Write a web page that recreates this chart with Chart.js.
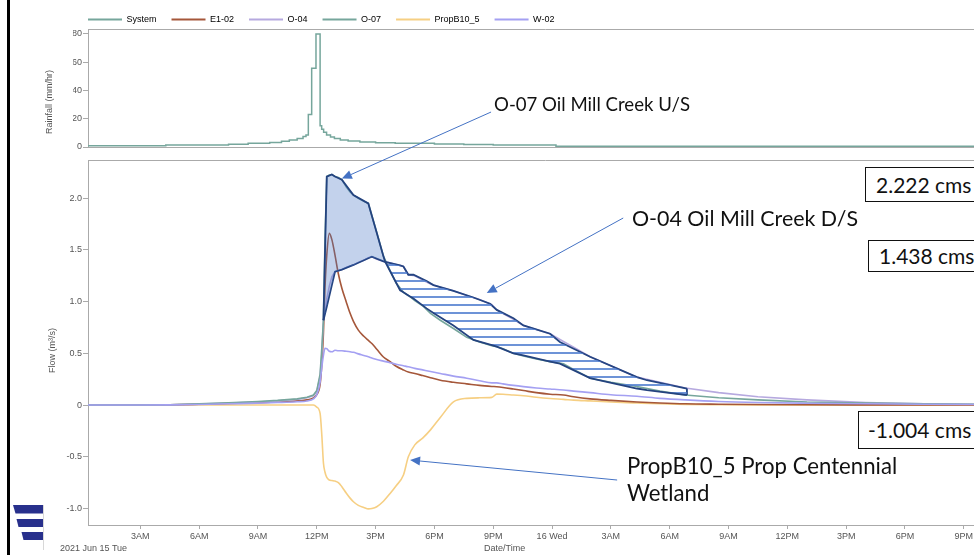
<!DOCTYPE html>
<html>
<head>
<meta charset="utf-8">
<script src="https://cdn.jsdelivr.net/npm/chart.js@4.4.1/dist/chart.umd.min.js"></script>
<style>
  html, body { margin:0; padding:0; overflow:hidden; background:#fff; width:974px; height:555px; }
  #wrap { position:relative; width:1004px; height:555px; }
  canvas { position:absolute; left:0; top:0; }
  .note { position:absolute; font-family: Lato, 'Liberation Sans', sans-serif; color:#111; white-space:nowrap; line-height:27px; }
  .box { position:absolute; border:1px solid #111; background:#fff; font-family: Lato, 'Liberation Sans', sans-serif; font-size:21px; color:#111; white-space:nowrap; box-sizing:border-box; width:200px; }
  .small { position:absolute; font-family:'Liberation Sans', Arial, sans-serif; font-size:9px; color:#555; white-space:nowrap; }
  #bar { position:absolute; left:7px; top:0; width:3px; height:555px; background:#000; }
</style>
</head>
<body>
<div id="wrap">
  <canvas id="rain" width="1004" height="160"></canvas>
  <canvas id="flow" width="1004" height="555"></canvas>
  <div id="bar"></div>
  <svg style="position:absolute;left:0;top:500px" width="50" height="55">
    <path d="M13,5 L43,5 L43,13.5 L15.5,13.5 Z" fill="#28308c"/>
    <path d="M16.5,19 L43,19 L43,27 L18.5,27 Z" fill="#28308c"/>
    <path d="M21.5,32 L43,32 L43,40 L23.5,40 Z" fill="#28308c"/>
    <line x1="43.5" y1="5" x2="43.5" y2="50" stroke="#d8d8d8" stroke-width="1"/>
  </svg>
  <div class="small" style="left:60px;top:543px;">2021 Jun 15 Tue</div>
  <div class="small" style="left:484px;top:543px;">Date/Time</div>
  <div class="note" style="left:494px;top:91px;font-size:18.6px;">O-07 Oil Mill Creek U/S</div>
  <div class="note" style="left:632px;top:205px;font-size:21.4px;">O-04 Oil Mill Creek D/S</div>
  <div class="note" style="left:627px;top:452px;font-size:22.2px;">PropB10_5 Prop Centennial<br>Wetland</div>
  <div class="box" style="left:865px;top:167px;height:35px;line-height:33px;padding-left:10px;">2.222 cms</div>
  <div class="box" style="left:868px;top:240px;height:32px;line-height:30px;padding-left:10px;">1.438 cms</div>
  <div class="box" style="left:858px;top:411px;height:38px;line-height:36px;padding-left:9px;">-1.004 cms</div>
</div>
<script>
// ---------- DATA ----------
const seriesNames = ['System', 'E1-02', 'O-04', 'O-07', 'PropB10_5', 'W-02'];

// Rainfall (System), mm/hr, each value holds until the next hour mark; hours since 2021-06-15 00:00
const rainHours = [0.33, 4.3, 7.5, 8.5, 9.6, 10.2, 10.6, 11.0, 11.3, 11.45, 11.57, 11.74, 11.96, 12.17, 12.25, 12.35, 12.5, 12.7, 12.9, 13.2, 13.6, 14.2, 15, 16, 18, 19.5, 21, 24.2, 47];
const rainfall  = [0.8, 1.5, 2.0, 2.6, 3.2, 4, 5, 6, 7.5, 8.5, 23, 55.7, 80, 15, 12.5, 10.5, 8.5, 7, 6, 5, 4.2, 3.5, 3, 2.6, 2.2, 1.8, 1.5, 0.5, 0.5];

// Flow series, m3/s, hours since 2021-06-15 00:00
const flowHours = [0.33, 3, 4.5, 6, 7.5, 9, 10, 11, 11.5, 11.83,
  12.0, 12.17, 12.26, 12.34, 12.42, 12.51, 12.64, 12.77, 12.93, 13.1,
  13.28, 13.5, 13.7, 13.87, 14.12, 14.4, 14.63, 14.81, 15.06, 15.4,
  15.74, 16.05, 16.42, 16.67, 17.0, 17.4, 17.8, 18.3, 18.97, 19.65,
  20.3, 20.93, 21.18, 21.5, 22.03, 22.54, 23.2, 23.9, 24.58, 25.1,
  25.94, 27, 28.33, 29.5, 30.8, 32.5, 34.5, 37, 40, 43, 47];
const o07Flow = [0, 0, 0.003, 0.012, 0.022, 0.035, 0.045, 0.06, 0.075, 0.097,
  0.14, 0.3, 0.56, 0.82, 1.6, 2.21, 2.225, 2.23, 2.21, 2.2,
  2.18, 2.11, 2.06, 2.03, 2.0, 1.97, 1.95, 1.83, 1.67, 1.44,
  1.30, 1.18, 1.09, 1.06, 1.01, 0.96, 0.887, 0.82, 0.74, 0.655,
  0.61, 0.575, 0.564, 0.545, 0.50, 0.475, 0.445, 0.42, 0.40, 0.345,
  0.26, 0.22, 0.18, 0.135, 0.097, 0.07, 0.05, 0.03, 0.02, 0.012, 0.006];
const o04Flow = [0, 0, 0.003, 0.01, 0.02, 0.03, 0.04, 0.055, 0.07, 0.09,
  0.13, 0.28, 0.5, 0.82, 0.93, 1.03, 1.15, 1.24, 1.29, 1.30,
  1.31, 1.33, 1.345, 1.355, 1.38, 1.40, 1.425, 1.434, 1.41, 1.39,
  1.375, 1.36, 1.34, 1.26, 1.25, 1.21, 1.17, 1.14, 1.105, 1.06,
  1.02, 0.97, 0.92, 0.885, 0.83, 0.77, 0.73, 0.69, 0.615, 0.56,
  0.467, 0.38, 0.27, 0.22, 0.165, 0.12, 0.08, 0.05, 0.025, 0.012, 0.006];
const e102Flow = [0, 0, 0.002, 0.008, 0.015, 0.022, 0.03, 0.04, 0.05, 0.07,
  0.1, 0.2, 0.4, 0.7, 1.14, 1.45, 1.66, 1.6, 1.45, 1.27,
  1.13, 1.0, 0.887, 0.81, 0.725, 0.665, 0.625, 0.595, 0.54, 0.465,
  0.42, 0.375, 0.34, 0.32, 0.305, 0.285, 0.265, 0.24, 0.22, 0.205,
  0.19, 0.18, 0.177, 0.17, 0.155, 0.14, 0.12, 0.105, 0.097, 0.08,
  0.06, 0.045, 0.03, 0.02, 0.012, 0.008, 0.005, 0.003, 0.002, 0.001, 0];
const w02Flow = [0, 0, 0.002, 0.006, 0.012, 0.018, 0.024, 0.032, 0.04, 0.06,
  0.1, 0.22, 0.37, 0.48, 0.55, 0.545, 0.52, 0.515, 0.53, 0.525,
  0.525, 0.52, 0.515, 0.51, 0.495, 0.48, 0.467, 0.455, 0.44, 0.425,
  0.41, 0.395, 0.38, 0.37, 0.355, 0.34, 0.325, 0.306, 0.28, 0.26,
  0.235, 0.215, 0.215, 0.205, 0.19, 0.178, 0.165, 0.155, 0.145, 0.135,
  0.12, 0.1, 0.085, 0.065, 0.05, 0.035, 0.025, 0.018, 0.012, 0.008, 0.005];
const propB10Flow = [0, 0, 0, 0, 0, 0, 0, 0, 0, 0,
  -0.02, -0.08, -0.3, -0.56, -0.65, -0.7, -0.725, -0.73, -0.735, -0.75,
  -0.79, -0.85, -0.9, -0.935, -0.97, -0.99, -1.004, -1.0, -0.983, -0.93,
  -0.855, -0.78, -0.677, -0.5, -0.385, -0.32, -0.24, -0.12, 0.03, 0.065,
  0.07, 0.074, 0.106, 0.105, 0.097, 0.09, 0.075, 0.063, 0.055, 0.048,
  0.04, 0.03, 0.02, 0.012, 0.006, 0.003, 0.001, 0, 0, 0, 0];

// Hand-drawn outline overlay (O-07 U/S vs O-04 D/S)
const outlineHours = [12.34, 12.51, 12.77, 12.93, 13.28, 13.87, 14.63, 14.81, 15.4, 15.48,
  16.25, 16.42, 16.67, 16.93, 17.6, 17.95, 18.97, 19.99, 20.84, 21.18,
  22.03, 22.54, 23.9, 24.4, 25.94, 28.33, 28.84, 30.88];
const outlineO07 = [0.82, 2.21, 2.23, 2.21, 2.18, 2.03, 1.95, 1.83, 1.44, 1.39,
  1.11, 1.09, 1.06, 1.03, 0.935, 0.89, 0.77, 0.63, 0.585, 0.565,
  0.50, 0.48, 0.42, 0.40, 0.26, 0.16, 0.145, 0.097];
const outlineO04 = [0.82, 0.95, 1.16, 1.29, 1.31, 1.355, 1.42, 1.434, 1.39, 1.385,
  1.35, 1.34, 1.26, 1.26, 1.2, 1.16, 1.105, 1.04, 0.98, 0.92,
  0.84, 0.77, 0.69, 0.61, 0.467, 0.27, 0.24, 0.16];

// Axis ticks
const xTickHours  = [3, 6, 9, 12, 15, 18, 21, 24, 27, 30, 33, 36, 39, 42, 45];
const xTickLabels = ['3AM', '6AM', '9AM', '12PM', '3PM', '6PM', '9PM', '16 Wed', '3AM', '6AM', '9AM', '12PM', '3PM', '6PM', '9PM'];

// Annotation arrows: [tailHour, tailValue, tipHour, tipValue]
const arrows = [
  [20.89, 2.834, 13.28, 2.19],
  [27.63, 1.809, 20.67, 1.083],
  [27.32, -0.725, 16.76, -0.532]
];

// ---------- STYLE ----------
const colors = { System:'#76a69c', 'E1-02':'#a5573a', 'O-04':'#b6a9df', 'O-07':'#76a69c', PropB10_5:'#f6cf83', 'W-02':'#a4a0f2' };
const navy = '#24437f';
const axisColor = '#aaaaaa';
const tickColor = '#555555';
const uiFont = { family: "'Liberation Sans', Arial, sans-serif", size: 9 };
const xMin = 0.332, xMax = 47.0;

const pts = (xs, ys) => xs.map((x, i) => ({ x, y: ys[i] }));

const framePlugin = {
  id: 'frame',
  afterDraw(chart, args, opts) {
    const { ctx, chartArea: a } = chart;
    ctx.save();
    ctx.strokeStyle = axisColor; ctx.lineWidth = 1;
    ctx.beginPath(); ctx.moveTo(a.left, a.top + 0.5); ctx.lineTo(a.right, a.top + 0.5); ctx.stroke();
    ctx.fillStyle = tickColor;
    ctx.font = "9px 'Liberation Sans', Arial, sans-serif";
    ctx.textAlign = 'center'; ctx.textBaseline = 'middle';
    ctx.translate(opts.tx, (a.top + a.bottom) / 2 + opts.dy);
    ctx.rotate(-Math.PI / 2);
    ctx.fillText(opts.text, 0, 0);
    ctx.restore();
  }
};

// ---------- RAIN CHART ----------
new Chart(document.getElementById('rain'), {
  type: 'line',
  data: { datasets: [{
    label: 'System', data: pts(rainHours, rainfall), stepped: 'before',
    borderColor: colors.System, borderWidth: 1.5, pointRadius: 0, fill: false
  }]},
  options: {
    responsive: false, animation: false, events: [],
    layout: { padding: { left: 73, right: 1, top: 0, bottom: 0 } },
    plugins: {
      legend: {
        display: true, align: 'start', maxHeight: 29,
        labels: {
          boxWidth: 34, boxHeight: 2, padding: 15, color: tickColor, font: uiFont,
          generateLabels: () => seriesNames.map(n => ({ text: n, fillStyle: colors[n], strokeStyle: colors[n], lineWidth: 0, hidden: false }))
        }
      },
      tooltip: { enabled: false },
      frame: { text: 'Rainfall (mm/hr)', tx: 50, dy: 14 }
    },
    scales: {
      x: { type: 'linear', min: xMin, max: xMax, ticks: { display: false }, grid: { display: false },
           border: { color: axisColor }, afterFit: s => { s.height = 13; } },
      y: { min: 0, max: 83.5, afterFit: s => { s.width = 15; },
           ticks: { stepSize: 20, includeBounds: false, color: tickColor, font: uiFont, padding: 1 },
           grid: { drawOnChartArea: false, tickLength: 5, color: axisColor }, border: { color: axisColor } }
    }
  },
  plugins: [framePlugin]
});

// ---------- FLOW CHART ----------
const flowCanvas = document.getElementById('flow');
const pc = document.createElement('canvas'); pc.width = 8; pc.height = 8;
const pg = pc.getContext('2d'); pg.fillStyle = 'rgba(84,128,208,0.85)'; pg.fillRect(0, 0, 8, 2);
const hatch = flowCanvas.getContext('2d').createPattern(pc, 'repeat');

const lastH = outlineHours[outlineHours.length - 1];
const arrowPlugin = {
  id: 'arrows',
  afterDraw(chart) {
    const { ctx, scales: { x, y } } = chart;
    ctx.save();
    ctx.strokeStyle = '#4472c4'; ctx.fillStyle = '#4472c4'; ctx.lineWidth = 1;
    arrows.forEach(([h1, v1, h2, v2]) => {
      const x1 = x.getPixelForValue(h1), y1 = y.getPixelForValue(v1);
      const x2 = x.getPixelForValue(h2), y2 = y.getPixelForValue(v2);
      const a = Math.atan2(y2 - y1, x2 - x1), L = 10, W = 4.5;
      const bx = x2 - L * Math.cos(a), by = y2 - L * Math.sin(a);
      ctx.beginPath(); ctx.moveTo(x1, y1); ctx.lineTo(bx, by); ctx.stroke();
      ctx.beginPath(); ctx.moveTo(x2, y2);
      ctx.lineTo(bx + W * Math.sin(a), by - W * Math.cos(a));
      ctx.lineTo(bx - W * Math.sin(a), by + W * Math.cos(a));
      ctx.closePath(); ctx.fill();
    });
    ctx.restore();
  }
};

new Chart(flowCanvas, {
  type: 'line',
  data: { datasets: [
    { label: 'O-07 outline', data: pts(outlineHours, outlineO07), borderColor: navy, borderWidth: 1.8, pointRadius: 0, order: 0,
      fill: { target: 1, above: 'rgba(68,114,196,0.32)', below: hatch } },
    { label: 'O-04 outline', data: pts(outlineHours, outlineO04), borderColor: navy, borderWidth: 1.8, pointRadius: 0, order: 0, fill: false },
    { label: 'outline end', data: [{ x: lastH, y: outlineO07[outlineO07.length - 1] }, { x: lastH, y: outlineO04[outlineO04.length - 1] }],
      borderColor: navy, borderWidth: 1.8, pointRadius: 0, order: 0, fill: false },
    { label: 'W-02', data: pts(flowHours, w02Flow), borderColor: colors['W-02'], borderWidth: 1.6, pointRadius: 0, order: 1, fill: false, cubicInterpolationMode: 'monotone' },
    { label: 'O-07', data: pts(flowHours, o07Flow), borderColor: colors['O-07'], borderWidth: 1.6, pointRadius: 0, order: 2, fill: false },
    { label: 'O-04', data: pts(flowHours, o04Flow), borderColor: colors['O-04'], borderWidth: 1.6, pointRadius: 0, order: 3, fill: false },
    { label: 'E1-02', data: pts(flowHours, e102Flow), borderColor: colors['E1-02'], borderWidth: 1.6, pointRadius: 0, order: 4, fill: false, cubicInterpolationMode: 'monotone' },
    { label: 'PropB10_5', data: pts(flowHours, propB10Flow), borderColor: colors.PropB10_5, borderWidth: 1.6, pointRadius: 0, order: 5, fill: false, cubicInterpolationMode: 'monotone' }
  ]},
  options: {
    responsive: false, animation: false, events: [],
    layout: { padding: { left: 0, right: 1, top: 160, bottom: 0 } },
    plugins: { legend: { display: false }, tooltip: { enabled: false },
      frame: { text: 'Flow (m\u00b3/s)', tx: 53, dy: 8 } },
    scales: {
      x: { type: 'linear', min: xMin, max: xMax,
           afterBuildTicks: s => { s.ticks = xTickHours.map(v => ({ value: v })); },
           afterFit: s => { s.height = 30; },
           ticks: { autoSkip: false, maxRotation: 0, color: tickColor, font: uiFont, padding: 2,
                    callback: (v, i) => xTickLabels[i] },
           grid: { drawOnChartArea: false, tickLength: 4, color: axisColor }, border: { color: axisColor } },
      y: { min: -1.16, max: 2.37, afterFit: s => { s.width = 88; },
           ticks: { stepSize: 0.5, includeBounds: false, color: tickColor, font: uiFont, padding: 1,
                    callback: v => (Math.abs(v) < 1e-9 ? '0' : v.toFixed(1)) },
           grid: { drawOnChartArea: false, tickLength: 5, color: axisColor }, border: { color: axisColor } }
    }
  },
  plugins: [framePlugin, arrowPlugin]
});
</script>
</body>
</html>
